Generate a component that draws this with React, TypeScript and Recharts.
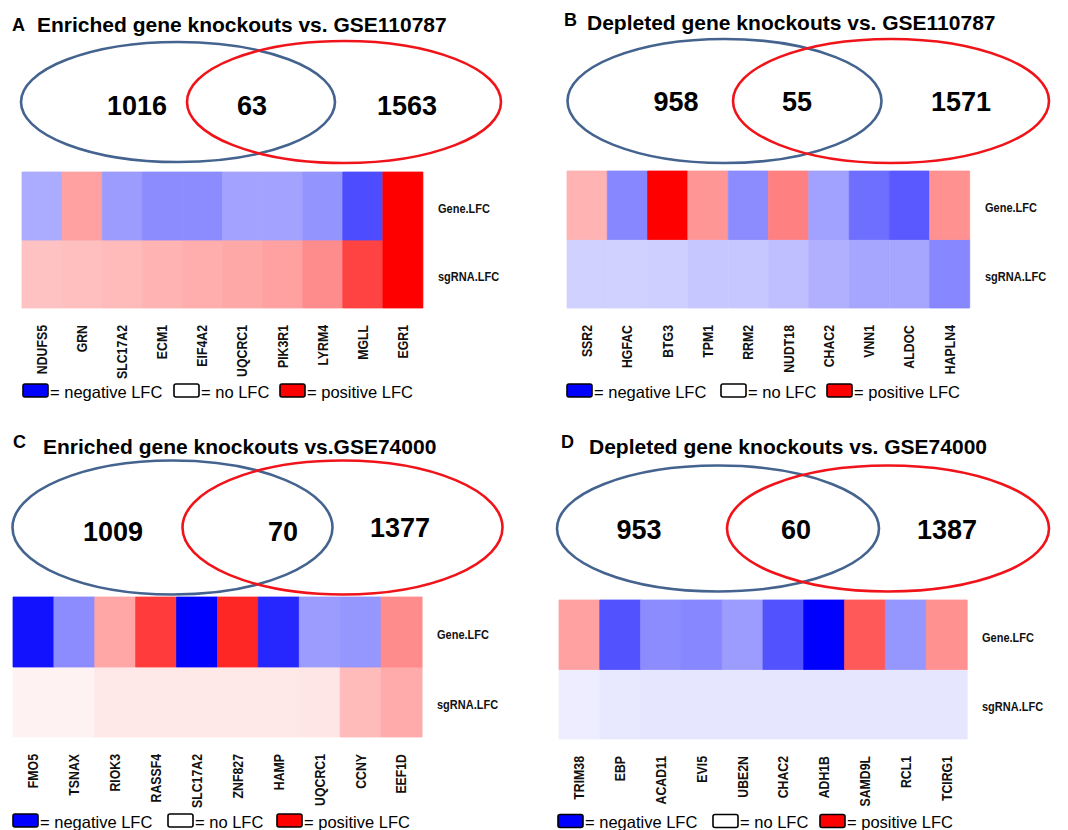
import React from 'react';
import { BarChart, Bar, XAxis, YAxis, Cell, Customized } from 'recharts';

// ---------- DATA ----------
const rowLabels = ['sgRNA.LFC', 'Gene.LFC'];
const legendLabels = ['= negative LFC', '= no LFC', '= positive LFC'];
const legendValues = [-1, 0, 1];

const titleA = 'Enriched gene knockouts vs. GSE110787';
const genesA = ['NDUFS5', 'GRN', 'SLC17A2', 'ECM1', 'EIF4A2', 'UQCRC1', 'PIK3R1', 'LYRM4', 'MGLL', 'EGR1'];
const geneLfcA = [-0.33, 0.37, -0.39, -0.45, -0.45, -0.36, -0.36, -0.42, -0.7, 1.0];
const sgLfcA = [0.24, 0.25, 0.27, 0.3, 0.32, 0.34, 0.37, 0.45, 0.74, 1.0];
const vennA = [1016, 63, 1563];

const titleB = 'Depleted gene knockouts vs. GSE110787';
const genesB = ['SSR2', 'HGFAC', 'BTG3', 'TPM1', 'RRM2', 'NUDT18', 'CHAC2', 'VNN1', 'ALDOC', 'HAPLN4'];
const geneLfcB = [0.3, -0.47, 1.0, 0.41, -0.45, 0.5, -0.37, -0.57, -0.65, 0.43];
const sgLfcB = [-0.18, -0.18, -0.19, -0.22, -0.22, -0.25, -0.31, -0.35, -0.35, -0.47];
const vennB = [958, 55, 1571];

const titleC = 'Enriched gene knockouts vs.GSE74000';
const genesC = ['FMO5', 'TSNAX', 'RIOK3', 'RASSF4', 'SLC17A2', 'ZNF827', 'HAMP', 'UQCRC1', 'CCNY', 'EEF1D'];
const geneLfcC = [-0.93, -0.45, 0.35, 0.77, -1.0, 0.85, -0.85, -0.39, -0.41, 0.45];
const sgLfcC = [0.05, 0.05, 0.09, 0.09, 0.09, 0.09, 0.09, 0.1, 0.27, 0.33];
const vennC = [1009, 70, 1377];

const titleD = 'Depleted gene knockouts vs. GSE74000';
const genesD = ['TRIM38', 'EBP', 'ACAD11', 'EVI5', 'UBE2N', 'CHAC2', 'ADH1B', 'SAMD9L', 'RCL1', 'TCIRG1'];
const geneLfcD = [0.37, -0.68, -0.45, -0.47, -0.39, -0.68, -1.0, 0.65, -0.41, 0.43];
const sgLfcD = [-0.07, -0.09, -0.1, -0.1, -0.1, -0.1, -0.1, -0.1, -0.1, -0.1];
const vennD = [953, 60, 1387];

// ---------- STYLE / LAYOUT ----------
const FONT = '"Liberation Sans", Arial, Helvetica, sans-serif';
const W = 534;
const H = 415;
const YW = 85;
const XH = 80;
const BLUE_RING = '#44638f';
const RED_RING = '#f0141a';

function lfcColor(v: number) {
  const t = Math.max(-1, Math.min(1, v));
  if (t < 0) {
    const c = Math.round(255 * (1 + t));
    return `rgb(${c},${c},255)`;
  }
  const c = Math.round(255 * (1 - t));
  return `rgb(255,${c},${c})`;
}

type Cfg = {
  px: number; py: number;
  letter: string; letterX: number; letterY: number;
  titleX: number; titleY: number;
  hx1: number; hx2: number; hy1: number; hy2: number;
  blue: [number, number, number, number];
  red: [number, number, number, number];
  numX: number[]; numY: number[];
  legY: number; legX: number[];
};

const cfgA: Cfg = {
  px: 0, py: 0, letter: 'A', letterX: 12, letterY: 31, titleX: 37, titleY: 32,
  hx1: 22, hx2: 423, hy1: 172, hy2: 308,
  blue: [178, 102, 157, 60], red: [344, 102, 157, 61],
  numX: [137, 252, 407], numY: [106, 106, 106],
  legY: 390.5, legX: [23, 174, 280],
};
const cfgB: Cfg = {
  px: 534, py: 0, letter: 'B', letterX: 30, letterY: 26, titleX: 53, titleY: 30,
  hx1: 33, hx2: 436, hy1: 171, hy2: 308,
  blue: [190.5, 101, 157, 62], red: [357, 101, 158, 62],
  numX: [142, 263, 427], numY: [102, 102, 102],
  legY: 390.5, legX: [33, 187, 293],
};
const cfgC: Cfg = {
  px: 0, py: 415, letter: 'C', letterX: 13, letterY: 33, titleX: 43, titleY: 39,
  hx1: 13, hx2: 422, hy1: 182, hy2: 322,
  blue: [172.5, 112.5, 160, 67], red: [342.5, 112.5, 160, 67],
  numX: [113, 283, 400], numY: [117, 117, 113],
  legY: 405.5, legX: [13, 168, 277],
};
const cfgD: Cfg = {
  px: 534, py: 415, letter: 'D', letterX: 27, letterY: 33, titleX: 55, titleY: 39,
  hx1: 25, hx2: 433, hy1: 185, hy2: 324,
  blue: [184, 113.5, 161, 63], red: [354, 113.5, 161, 63],
  numX: [105, 262, 413], numY: [115, 115, 115],
  legY: 406, legX: [24, 179, 286],
};

const GeneTick = (props: any) => {
  const { x, y, payload } = props;
  return (
    <g transform={`translate(${x}, ${y}) rotate(-90) scale(0.82, 1)`}>
      <text
        x={0}
        y={0}
        textAnchor="end"
        dominantBaseline="central"
        fontFamily={FONT}
        fontWeight="bold"
        fontSize={15}
        fill="#111"
      >
        {payload.value}
      </text>
    </g>
  );
};

const RowTick = (props: any) => {
  const { x, y, payload } = props;
  const idx = payload.value < 1 ? 0 : 1;
  return (
    <g transform={`translate(${x}, ${y + 2}) scale(0.88, 1)`}>
      <text x={0} y={0} textAnchor="start" dominantBaseline="central" fontFamily={FONT} fontWeight="bold" fontSize={12.5} fill="#111">
        {rowLabels[idx]}
      </text>
    </g>
  );
};

function Overlay({ cfg, title, venn }: { cfg: Cfg; title: string; venn: number[] }) {
  return (
    <g>
      <text x={cfg.letterX} y={cfg.letterY} fontFamily={FONT} fontWeight="bold" fontSize={18} fill="#000">{cfg.letter}</text>
      <text x={cfg.titleX} y={cfg.titleY} fontFamily={FONT} fontWeight="bold" fontSize={21} fill="#000">{title}</text>
      <ellipse cx={cfg.blue[0]} cy={cfg.blue[1]} rx={cfg.blue[2]} ry={cfg.blue[3]} fill="none" stroke={BLUE_RING} strokeWidth={2.6} />
      <ellipse cx={cfg.red[0]} cy={cfg.red[1]} rx={cfg.red[2]} ry={cfg.red[3]} fill="none" stroke={RED_RING} strokeWidth={2.6} />
      {venn.map((n, i) => (
        <text key={i} x={cfg.numX[i]} y={cfg.numY[i]} textAnchor="middle" dominantBaseline="central" fontFamily={FONT} fontWeight="bold" fontSize={27} fill="#000">
          {n}
        </text>
      ))}
      {legendLabels.map((lab, i) => (
        <g key={lab}>
          <rect x={cfg.legX[i]} y={cfg.legY - 6.5} width={25} height={13} rx={2} fill={lfcColor(legendValues[i])} stroke="#000" strokeWidth={1.6} />
          <text x={cfg.legX[i] + 27} y={cfg.legY + 1} dominantBaseline="central" fontFamily={FONT} fontSize={16.5} fill="#000">{lab}</text>
        </g>
      ))}
    </g>
  );
}

function Panel({ cfg, title, genes, geneLfc, sgLfc, venn }: { cfg: Cfg; title: string; genes: string[]; geneLfc: number[]; sgLfc: number[]; venn: number[] }) {
  const data = genes.map((g, i) => ({ gene: g, geneLfc: geneLfc[i], sgLfc: sgLfc[i], band: 1 }));
  const margin = {
    left: cfg.hx1,
    top: cfg.hy1,
    right: W - cfg.hx2 - YW,
    bottom: H - cfg.hy2 - XH,
  };
  return (
    <div style={{ position: 'absolute', left: cfg.px, top: cfg.py, width: W, height: H }}>
      <BarChart width={W} height={H} data={data} margin={margin} barCategoryGap={0} barGap={0}>
        <XAxis
          dataKey="gene"
          type="category"
          interval={0}
          axisLine={false}
          tickLine={false}
          tickSize={0}
          tickMargin={17}
          height={XH}
          tick={<GeneTick />}
        />
        <YAxis
          orientation="right"
          type="number"
          width={YW}
          domain={[0, 2]}
          ticks={[0.5, 1.5]}
          axisLine={false}
          tickLine={false}
          tickSize={0}
          tickMargin={15}
          tick={<RowTick />}
        />
        <Bar dataKey="band" stackId="heat" isAnimationActive={false}>
          {data.map((d, i) => (
            <Cell key={`s${i}`} fill={lfcColor(d.sgLfc)} stroke={lfcColor(d.sgLfc)} strokeWidth={0.8} />
          ))}
        </Bar>
        <Bar dataKey="band" stackId="heat" isAnimationActive={false}>
          {data.map((d, i) => (
            <Cell key={`g${i}`} fill={lfcColor(d.geneLfc)} stroke={lfcColor(d.geneLfc)} strokeWidth={0.8} />
          ))}
        </Bar>
        <Customized component={() => <Overlay cfg={cfg} title={title} venn={venn} />} />
      </BarChart>
    </div>
  );
}

export default function App() {
  return (
    <div style={{ position: 'absolute', left: 0, top: 0, width: 1068, height: 830, background: '#fff', overflow: 'hidden' }}>
      <Panel cfg={cfgA} title={titleA} genes={genesA} geneLfc={geneLfcA} sgLfc={sgLfcA} venn={vennA} />
      <Panel cfg={cfgB} title={titleB} genes={genesB} geneLfc={geneLfcB} sgLfc={sgLfcB} venn={vennB} />
      <Panel cfg={cfgC} title={titleC} genes={genesC} geneLfc={geneLfcC} sgLfc={sgLfcC} venn={vennC} />
      <Panel cfg={cfgD} title={titleD} genes={genesD} geneLfc={geneLfcD} sgLfc={sgLfcD} venn={vennD} />
    </div>
  );
}
